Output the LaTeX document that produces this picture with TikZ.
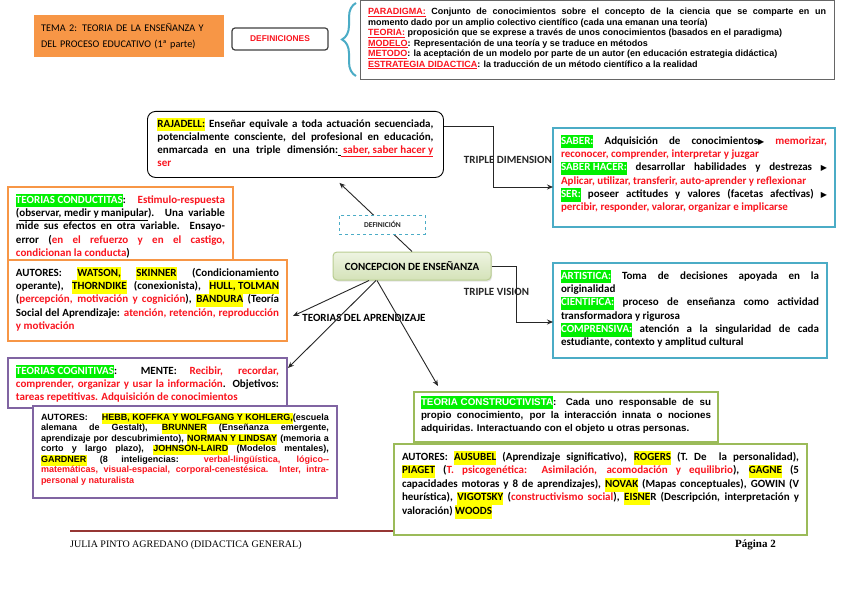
\documentclass[tikz,border=0pt]{standalone}
\usepackage{fontspec}
\setmainfont{Carlito}
\newfontfamily\arialfont{Liberation Sans}
\newfontfamily\timesfont{Liberation Serif}
\newfontfamily\symfont{DejaVu Sans}
\usetikzlibrary{arrows.meta, positioning, decorations.pathreplacing, shadows}

\definecolor{boxorange}{RGB}{247,150,70}
\definecolor{boxblue}{RGB}{75,172,198}
\definecolor{boxpurple}{RGB}{128,100,162}
\definecolor{boxolive}{RGB}{155,187,89}
\definecolor{txtred}{RGB}{250,20,30}
\definecolor{hlgreen}{RGB}{0,240,0}
\definecolor{hlyellow}{RGB}{255,255,0}
\definecolor{footred}{RGB}{150,54,52}
\definecolor{conctop}{RGB}{238,244,226}
\definecolor{concbot}{RGB}{212,226,184}
\definecolor{concline}{RGB}{185,205,145}

\newcommand{\rd}[1]{\textcolor{txtred}{#1}}
\newcommand{\hly}[1]{{\fboxsep=0pt\colorbox{hlyellow}{\strut#1}}}
\newcommand{\hlg}[1]{{\fboxsep=0pt\colorbox{hlgreen}{\strut\textcolor{white}{#1}}}}
\newcommand{\tri}{{\symfont\fontsize{8}{8}\selectfont ▶}}

\begin{document}
\begin{tikzpicture}[x=1pt, y=-1pt,
    frame/.style={draw, line width=2.5pt, fill=white, inner xsep=8pt, inner ysep=7pt,
                  outer sep=0pt, anchor=north west,
                  font=\fontsize{11}{13.3}\selectfont\bfseries},
    arialframe/.style={frame, font=\arialfont\fontsize{9}{10.5}\selectfont\bfseries},
    lbl/.style={inner sep=0pt, font=\fontsize{11}{12}\selectfont\bfseries},
    foot/.style={inner sep=0pt, font=\timesfont\fontsize{10}{12}\selectfont},
    arr/.style={-{Stealth[length=6pt, width=5pt]}, line width=0.9pt, black!85}
  ]
  \fill[white] (0,0) rectangle (848,599);
  \useasboundingbox (0,0) rectangle (848,599);

  % header
  \node[fill=boxorange, anchor=north west, minimum width=190pt, minimum height=42pt,
        text width=176pt, inner xsep=7pt, align=left,
        font=\fontsize{10.2}{15.5}\selectfont] (tema) at (34,15)
    {TEMA 2: TEORIA DE LA ENSEÑANZA Y\\DEL PROCESO EDUCATIVO (1ª parte)};
  \node[draw=black!75, line width=1.2pt, rounded corners=3pt, fill=white,
        minimum width=96pt, minimum height=22pt, text=txtred,
        font=\arialfont\fontsize{8.4}{9}\selectfont\bfseries] (defbtn) at (280,39) {DEFINICIONES};
  \node[arialframe, draw=black!60, line width=1pt] (defs) at (360,1) {\parbox[t][65pt][t]{458pt}{%
    \rd{\underline{PARADIGMA:}} Conjunto de conocimientos sobre el concepto de la ciencia que se comparte en un\linebreak
    momento dado por un amplio colectivo científico (cada una emanan una teoría)\par
    \rd{\underline{TEORIA:}} proposición que se exprese a través de unos conocimientos (basados en el paradigma)\par
    \rd{\underline{MODELO}}: Representación de una teoría y se traduce en métodos\par
    \rd{\underline{METODO}}: la aceptación de un modelo por parte de un autor (en educación estrategia didáctica)\par
    \rd{\underline{ESTRATEGIA DIDACTICA}}: la traducción de un método científico a la realidad}};
  \draw[boxblue, line width=2pt, decorate, decoration={brace, amplitude=14pt}]
    ([xshift=-4pt, yshift=4pt]defs.south west) -- ([xshift=-4pt, yshift=-2pt]defs.north west);

  % centre and definition
  \node[draw=concline, line width=1pt, rounded corners=4pt, top color=conctop, bottom color=concbot,
        minimum width=158pt, minimum height=28pt,
        drop shadow={opacity=0.2, shadow xshift=1pt, shadow yshift=-1.5pt},
        font=\fontsize{11}{12}\selectfont\bfseries] (conc) at (412,266) {CONCEPCION DE ENSEÑANZA};
  \node[draw=black, line width=0.9pt, rounded corners=8pt, fill=white, anchor=north west,
        inner xsep=10pt, inner ysep=7pt, font=\fontsize{11}{13}\selectfont\bfseries] (raj) at (147,111)
    {\parbox[t][52pt][t]{276pt}{\hly{RAJADELL:} Enseñar equivale a toda actuación secuenciada,\linebreak
    potencialmente consciente, del profesional en educación,\linebreak
    enmarcada en una triple dimensión:\underline{\ }\rd{\underline{\ saber, saber hacer y}}\linebreak
    \rd{ser}}};
  \draw[arr] (conc.north) -- node[pos=0.393, xshift=-1pt, draw=boxblue, dashed, line width=0.9pt,
        fill=white, minimum width=86pt, minimum height=19pt, inner sep=0pt,
        font=\fontsize{7.5}{8}\selectfont\bfseries] (defi) {DEFINICIÓN}
    ([xshift=44pt, yshift=-5pt]raj.south);

  % triple dimension / triple vision
  \node[frame, draw=boxblue] (saber) at (553,128) {\parbox[t][85pt][t]{266pt}{%
    \hlg{SABER:} Adquisición de conocimientos\tri{} \rd{memorizar,}\linebreak
    \rd{reconocer, comprender, interpretar y juzgar}\par
    \hlg{SABER HACER:} desarrollar habilidades y destrezas \tri\linebreak
    \rd{Aplicar, utilizar, transferir, auto-aprender y reflexionar}\par
    \hlg{SER:} poseer actitudes y valores (facetas afectivas) \tri\linebreak
    \rd{percibir, responder, valorar, organizar e implicarse}}};
  \node[frame, draw=boxblue] (art) at (553,263) {\parbox[t][81pt][t]{258pt}{%
    \hlg{ARTISTICA:} Toma de decisiones apoyada en la\linebreak
    originalidad\par
    \hlg{CIENTIFICA:} proceso de enseñanza como actividad\linebreak
    transformadora y rigurosa\par
    \hlg{COMPRENSIVA:} atención a la singularidad de cada\linebreak
    estudiante, contexto y amplitud cultural}};
  \draw[arr] ([yshift=18pt]raj.east) -- ++(50,0)
    |- node[lbl, pos=0.28, xshift=14pt] (tdim) {TRIPLE DIMENSION} ([yshift=-9.5pt]saber.west);
  \draw[arr] (conc.east) -- ++(25,0)
    |- node[lbl, pos=0.23, xshift=-20pt] (tvis) {TRIPLE VISION} ([yshift=-11.5pt]art.west);

  % footer line (under the boxes)
  \draw[footred, line width=1.6pt] (70,531) -- (780,531);

  % teorias del aprendizaje
  \node[frame, draw=boxorange] (cond) at (8,187) {\parbox[t][61pt][t]{209pt}{%
    \hlg{TEORIAS CONDUCTITAS}: \rd{Estimulo-respuesta}\linebreak
    (\underline{observar, medir y manipular}). Una variable\linebreak
    mide sus efectos en otra variable. Ensayo-\linebreak
    error (\rd{en el refuerzo y en el castigo,}\linebreak
    \rd{condicionan la conducta})}};
  \node[frame, draw=boxorange] (aut1) at (8,260) {\parbox[t][67pt][t]{263pt}{%
    AUTORES: \hly{WATSON,} \hly{SKINNER} (Condicionamiento\linebreak
    operante), \hly{THORNDIKE} (conexionista), \hly{HULL, TOLMAN}\linebreak
    (\rd{percepción, motivación y cognición}), \hly{BANDURA} (Teoría\linebreak
    Social del Aprendizaje: \rd{atención, retención, reproducción}\linebreak
    \rd{y motivación}}};
  \node[frame, draw=boxpurple] (cog) at (8,358) {\parbox[t][36pt][t]{263pt}{%
    \hlg{TEORIAS COGNITIVAS}: MENTE: \rd{Recibir, recordar,}\linebreak
    \rd{comprender, organizar y usar la información}. Objetivos:\linebreak
    \rd{tareas repetitivas. Adquisición de conocimientos}}};
  \node[arialframe, draw=boxpurple] (aut2) at (33,406) {\parbox[t][78pt][t]{288pt}{%
    AUTORES: \hly{HEBB, KOFFKA Y WOLFGANG Y KOHLERG,}(escuela\linebreak
    alemana de Gestalt), \hly{BRUNNER} (Enseñanza emergente,\linebreak
    aprendizaje por descubrimiento), \hly{NORMAN Y LINDSAY} (memoria a\linebreak
    corto y largo plazo), \hly{JOHNSON-LAIRD} (Modelos mentales),\linebreak
    \hly{GARDNER} (8 inteligencias: \rd{verbal-lingüística, lógico--}\linebreak
    \rd{matemáticas, visual-espacial, corporal-cenestésica. Inter, intra-}\linebreak
    \rd{personal y naturalista}}};
  \node[frame, draw=boxolive, inner xsep=7pt, inner ysep=4pt,
        font=\arialfont\fontsize{9.8}{13}\selectfont\bfseries] (cons) at (414,392) {\parbox[t][42pt][t]{290pt}{%
    \hlg{TEORIA CONSTRUCTIVISTA}: Cada uno responsable de su\linebreak
    propio conocimiento, por la interacción innata o nociones\linebreak
    adquiridas. Interactuando con el objeto u otras personas.}};
  \node[frame, draw=boxolive, font=\fontsize{11}{13.5}\selectfont\bfseries] (aut3) at (394,444)
    {\parbox[t][77pt][t]{397pt}{%
    AUTORES: \hly{AUSUBEL} (Aprendizaje significativo), \hly{ROGERS} (T. De\ \ la personalidad),\linebreak
    \hly{PIAGET} (\rd{T. psicogenética: Asimilación, acomodación y equilibrio}), \hly{GAGNE} (5\linebreak
    capacidades motoras y 8 de aprendizajes), \hly{NOVAK} (Mapas conceptuales), GOWIN (V\linebreak
    heurística), \hly{VIGOTSKY} (\rd{constructivismo social}), \hly{EISNE}R (Descripción, interpretación y\linebreak
    valoración) \hly{WOODS}}};

  \node[lbl] (tda) at (364,318) {TEORIAS DEL APRENDIZAJE};
  \draw[arr] ([xshift=-43pt]conc.south) -- ([xshift=6pt, yshift=-15.5pt]aut1.east);
  \draw[arr] ([xshift=-36pt]conc.south) -- ([xshift=1pt, yshift=-10pt]cog.north east);
  \draw[arr] ([xshift=-35pt]conc.south) -- ([xshift=24pt, yshift=6pt]cons.north west);

  % footer
  \node[foot, anchor=west] (author) at (70,545) {JULIA PINTO AGREDANO (DIDACTICA GENERAL)};
  \node[foot, anchor=east, font=\timesfont\fontsize{11}{12}\selectfont\bfseries] (pagina) at (776,545) {Página 2};
\end{tikzpicture}
\end{document}
